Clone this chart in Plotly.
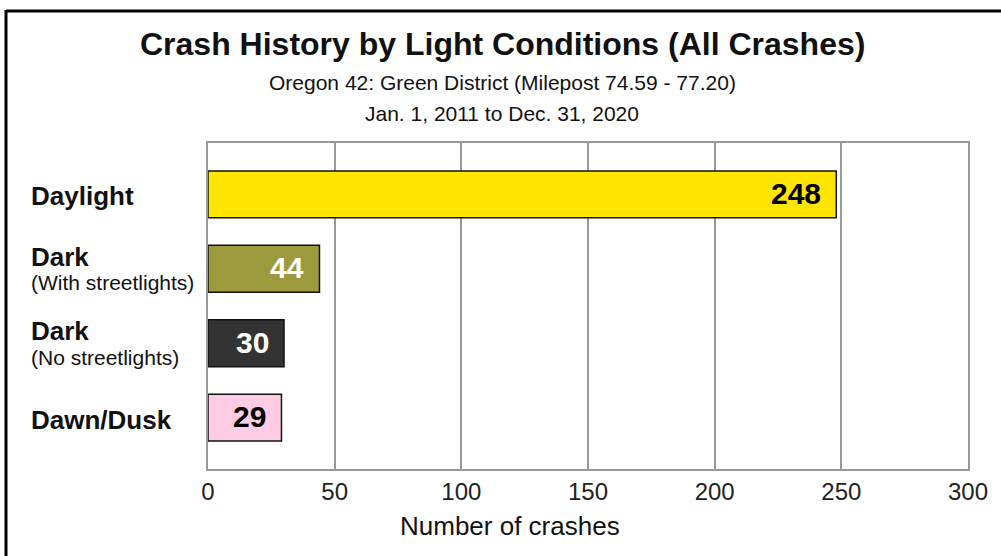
import plotly.graph_objects as go

# ---- data ----
categories = ["Daylight", "Dark (With streetlights)", "Dark (No streetlights)", "Dawn/Dusk"]
label_main = ["Daylight", "Dark", "Dark", "Dawn/Dusk"]
label_sub = ["", "(With streetlights)", "(No streetlights)", ""]
crashes = [248, 44, 30, 29]
x_ticks = [0, 50, 100, 150, 200, 250, 300]

title_text = "Crash History by Light Conditions (All Crashes)"
subtitle_1 = "Oregon 42: Green District (Milepost 74.59 - 77.20)"
subtitle_2 = "Jan. 1, 2011 to Dec. 31, 2020"
x_title = "Number of crashes"

# ---- style ----
bar_colors = ["#FFE500", "#9C9A3C", "#333333", "#FFCCE3"]
text_colors = ["#000000", "#FFFFFF", "#FFFFFF", "#000000"]
FONT = "Liberation Sans, Arial, Helvetica, sans-serif"

W, H = 1001, 556
L, R, T, B = 208, 33, 143, 87
PW, PH = W - L - R, H - T - B


def px_x(p):
    return (p - L) / PW


def px_y(p):
    return 1 + (T - p) / PH


fig = go.Figure()
fig.add_trace(go.Bar(
    y=categories, x=crashes, orientation="h",
    marker=dict(color=bar_colors, line=dict(color="#111111", width=1.5)),
    width=0.63, hoverinfo="x+y", showlegend=False,
))

annotations = []
# value labels inside bars
for cat, v, tc in zip(categories, crashes, text_colors):
    annotations.append(dict(
        x=v, y=cat, xref="x", yref="y", text="<b>%d</b>" % v,
        showarrow=False, xanchor="right", yanchor="middle", xshift=-13, yshift=1,
        font=dict(family=FONT, size=30, color=tc),
    ))
# category labels (left aligned)
for cat, m, s in zip(categories, label_main, label_sub):
    if s:
        annotations.append(dict(
            x=px_x(29), y=cat, xref="paper", yref="y", text="<b>%s</b>" % m,
            showarrow=False, xanchor="left", yanchor="middle", yshift=12,
            font=dict(family=FONT, size=26, color="#111111"),
        ))
        annotations.append(dict(
            x=px_x(29), y=cat, xref="paper", yref="y", text=s,
            showarrow=False, xanchor="left", yanchor="middle", yshift=-14,
            font=dict(family=FONT, size=21, color="#111111"),
        ))
    else:
        annotations.append(dict(
            x=px_x(29), y=cat, xref="paper", yref="y", text="<b>%s</b>" % m,
            showarrow=False, xanchor="left", yanchor="middle", yshift=-2,
            font=dict(family=FONT, size=26, color="#111111"),
        ))
# titles
annotations.append(dict(x=px_x(502), y=px_y(44), xref="paper", yref="paper",
                        text="<b>%s</b>" % title_text, showarrow=False,
                        xanchor="center", yanchor="middle",
                        font=dict(family=FONT, size=32, color="#111111")))
annotations.append(dict(x=px_x(502), y=px_y(83), xref="paper", yref="paper",
                        text=subtitle_1, showarrow=False,
                        xanchor="center", yanchor="middle",
                        font=dict(family=FONT, size=21, color="#111111")))
annotations.append(dict(x=px_x(502), y=px_y(113), xref="paper", yref="paper",
                        text=subtitle_2, showarrow=False,
                        xanchor="center", yanchor="middle",
                        font=dict(family=FONT, size=21, color="#111111")))
annotations.append(dict(x=px_x(510), y=px_y(526), xref="paper", yref="paper",
                        text=x_title, showarrow=False,
                        xanchor="center", yanchor="middle",
                        font=dict(family=FONT, size=26, color="#111111")))

shapes = [
    dict(type="line", xref="paper", yref="paper", x0=px_x(6), x1=px_x(1010),
         y0=px_y(11), y1=px_y(11), line=dict(color="#000000", width=3)),
    dict(type="line", xref="paper", yref="paper", x0=px_x(6), x1=px_x(6),
         y0=px_y(10), y1=px_y(570), line=dict(color="#000000", width=3)),
]

fig.update_layout(
    width=W, height=H,
    margin=dict(l=L, r=R, t=T, b=B, pad=0),
    paper_bgcolor="white", plot_bgcolor="white",
    font=dict(family=FONT, color="#111111"),
    bargap=0.37,
    annotations=annotations,
    shapes=shapes,
    xaxis=dict(
        range=[0, 300], tickvals=x_ticks, ticktext=[str(t) for t in x_ticks],
        showgrid=True, gridcolor="#999999", gridwidth=1.5,
        showline=True, linecolor="#999999", linewidth=2, mirror=True,
        zeroline=False, ticks="", tickfont=dict(family=FONT, size=24, color="#222222"),
        fixedrange=True,
    ),
    yaxis=dict(
        type="category", categoryorder="array", categoryarray=categories,
        range=[3.69, -0.69],
        showgrid=False, showticklabels=False, ticks="",
        showline=True, linecolor="#999999", linewidth=2, mirror=True,
        zeroline=False, fixedrange=True,
    ),
)

fig.write_html(
    "out.html",
    config={"displayModeBar": False},
    post_script="document.body.style.margin='0';document.body.style.overflow='hidden';",
)
